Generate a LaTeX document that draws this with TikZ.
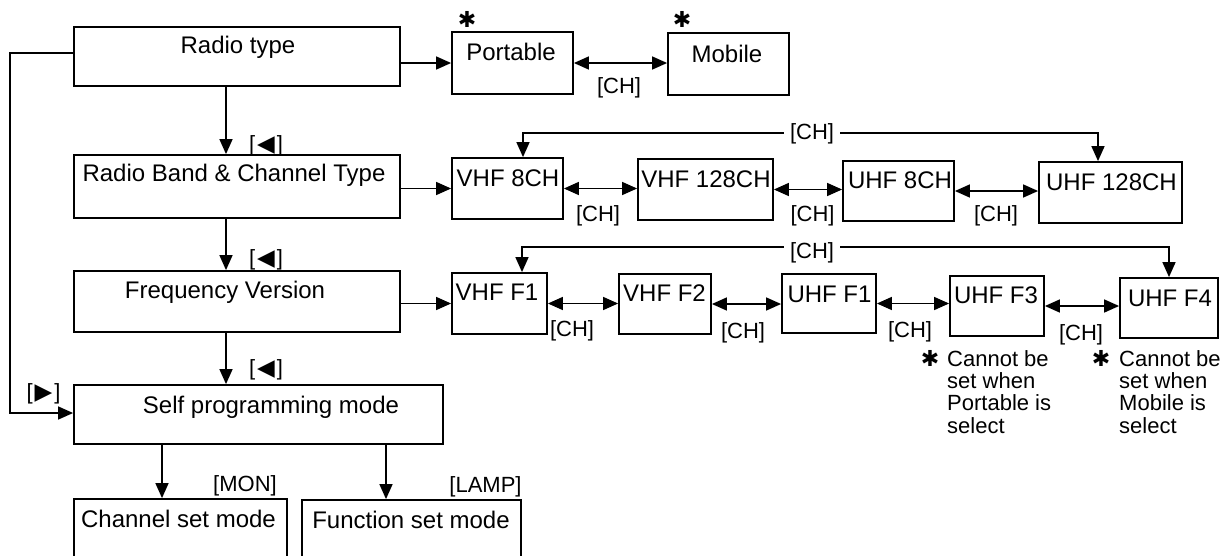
\documentclass[tikz,border=0pt]{standalone}
\usepackage{fontspec}
\setmainfont{Liberation Sans}
\newfontfamily\symfont{DejaVu Sans}
\usetikzlibrary{arrows.meta}
\tikzset{
  box/.style={draw, line width=1.8pt, inner sep=0pt, rectangle},
  txt/.style={inner sep=0pt, anchor=base, font=\fontsize{24}{28}\selectfont},
  lbl/.style={inner sep=0pt, anchor=base, font=\fontsize{22}{26}\selectfont},
  note/.style={inner sep=0pt, anchor=north west, align=left, font=\fontsize{22}{22.3}\selectfont},
  star/.style={inner sep=0pt, font=\symfont\fontsize{22}{24}\selectfont},
  conn/.style={line width=1.5pt},
  arr/.style={conn, -{Triangle[length=15pt,width=13pt]}},
  darr/.style={conn, {Triangle[length=15pt,width=13pt]}-{Triangle[length=15pt,width=13pt]}},
}
\newcommand{\tri}[1]{\kern2pt{\symfont\fontsize{23}{24}\selectfont\raisebox{0pt}{#1}}\kern2pt}
\begin{document}
\begin{tikzpicture}[x=1pt,y=-1pt]
\useasboundingbox (0,0) rectangle (1221,555);

% boxes
\node[box, minimum width=326pt, minimum height=59pt] (rt)   at (237,56.5)  {};
\node[box, minimum width=121pt, minimum height=62pt] (port) at (512.5,63)  {};
\node[box, minimum width=121pt, minimum height=62pt] (mob)  at (728.5,64)  {};
\node[box, minimum width=326pt, minimum height=63pt] (rb)   at (237,186.5) {};
\node[box, minimum width=111pt, minimum height=61pt] (v8)   at (507.5,188.5) {};
\node[box, minimum width=135pt, minimum height=61pt] (v128) at (705.5,189.5) {};
\node[box, minimum width=111pt, minimum height=60pt] (u8)   at (898.5,191) {};
\node[box, minimum width=143pt, minimum height=61pt] (u128) at (1110.5,192.5) {};
\node[box, minimum width=326pt, minimum height=61pt] (fv)   at (237,301.5) {};
\node[box, minimum width=95pt,  minimum height=61pt] (f1)   at (499.5,303.5) {};
\node[box, minimum width=92pt,  minimum height=60pt] (f2)   at (665,304) {};
\node[box, minimum width=94pt,  minimum height=59pt] (uf1)  at (829,303.5) {};
\node[box, minimum width=94pt,  minimum height=60pt] (uf3)  at (997,306) {};
\node[box, minimum width=98pt,  minimum height=60pt] (uf4)  at (1169,308) {};
\node[box, minimum width=369pt, minimum height=59pt] (spm)  at (258.5,414.5) {};
\node[box, minimum width=213pt, minimum height=90pt] (csm)  at (180.5,544) {};
\node[box, minimum width=219pt, minimum height=90pt] (fsm)  at (411.5,545) {};

% box texts
\node[txt] (trt)   at (238,53)    {Radio type};
\node[txt] (tport) at (511,60)    {Portable};
\node[txt] (tmob)  at (727,62)    {Mobile};
\node[txt] (trb)   at (234,181)   {Radio Band \& Channel Type};
\node[txt] (tv8)   at (508,186)   {VHF 8CH};
\node[txt] (tv128) at (706,187)   {VHF 128CH};
\node[txt] (tu8)   at (900,188)   {UHF 8CH};
\node[txt] (tu128) at (1111.5,190) {UHF 128CH};
\node[txt] (tfv)   at (225,298)   {Frequency Version};
\node[txt] (tf1)   at (497,300)   {VHF F1};
\node[txt] (tf2)   at (664.5,301) {VHF F2};
\node[txt] (tuf1)  at (829.5,302) {UHF F1};
\node[txt] (tuf3)  at (996,303)   {UHF F3};
\node[txt] (tuf4)  at (1170,306)  {UHF F4};
\node[txt] (tspm)  at (271,413)   {Self programming mode};
\node[txt] (tcsm)  at (178.5,527) {Channel set mode};
\node[txt] (tfsm)  at (411,528)   {Function set mode};

% asterisks
\node[star] (s1) at (467,19) {✱};
\node[star] (s2) at (682,19) {✱};

% connectors, top row
\draw[arr]  (rt.east |- port.west) -- (port.west);
\draw[darr] (port.east) -- (port.east -| mob.west);
\node[lbl] (ch0) at (619,93) {[CH]};

% vertical chain
\draw[arr] ([xshift=-11pt]rt.south) -- ([xshift=-11pt]rb.north);
\draw[arr] ([xshift=-11pt]rb.south) -- ([xshift=-11pt]fv.north);
\draw[arr] ([xshift=-11pt]fv.south) -- ([xshift=-11pt]fv.south |- spm.north);
\node[lbl] (k1) at (266,151) {[\tri{◀}]};
\node[lbl] (k2) at (266,265) {[\tri{◀}]};
\node[lbl] (k3) at (266,375) {[\tri{◀}]};

% row 2
\draw[arr]  (rb.east |- v8.west) -- (v8.west);
\draw[darr] (v8.east) -- (v8.east -| v128.west);
\draw[darr] (v128.east) -- (v128.east -| u8.west);
\draw[darr] (u8.east) -- (u8.east -| u128.west);
\node[lbl] (ch1) at (598,221) {[CH]};
\node[lbl] (ch2) at (812.5,221) {[CH]};
\node[lbl] (ch3) at (996,221) {[CH]};
\draw[darr] ([xshift=15.5pt]v8.north) -- ++(0,-24) -| ([xshift=-12.5pt]u128.north);
\node[lbl, fill=white, inner xsep=6pt, inner ysep=2pt] (ch4) at (812,139) {[CH]};

% row 3
\draw[arr]  (fv.east |- f1.west) -- (f1.west);
\draw[darr] (f1.east) -- (f1.east -| f2.west);
\draw[darr] (f2.east) -- (f2.east -| uf1.west);
\draw[darr] (uf1.east) -- (uf1.east -| uf3.west);
\draw[darr] (uf3.east) -- (uf3.east -| uf4.west);
\node[lbl] (ch5) at (572,336) {[CH]};
\node[lbl] (ch6) at (743,338) {[CH]};
\node[lbl] (ch7) at (910,337) {[CH]};
\node[lbl] (ch8) at (1081,340) {[CH]};
\draw[darr] ([xshift=22.5pt]f1.north) -- ++(0,-25) -| (uf4.north);
\node[lbl, fill=white, inner xsep=6pt, inner ysep=2pt] (ch9) at (812,258) {[CH]};

% notes
\node[star] (s3) at (930,358) {✱};
\node[note] (n1) at (947,350) {Cannot be\\set when\\Portable is\\select};
\node[star] (s4) at (1101,358) {✱};
\node[note] (n2) at (1119,350) {Cannot be\\set when\\Mobile is\\select};

% left loop
\draw[arr] ([yshift=3.5pt]rt.west) -- ++(-63,0) |- ([yshift=1.5pt]spm.west);
\node[lbl] (k4) at (43.5,399) {[\tri{▶}]};

% bottom
\draw[arr] ([xshift=-18.5pt]csm.north |- spm.south) -- ([xshift=-18.5pt]csm.north);
\draw[arr] ([xshift=-25.5pt]fsm.north |- spm.south) -- ([xshift=-25.5pt]fsm.north);
\node[lbl] (mon)  at (245,491)   {[MON]};
\node[lbl] (lamp) at (485.5,492) {[LAMP]};
\end{tikzpicture}
\end{document}
